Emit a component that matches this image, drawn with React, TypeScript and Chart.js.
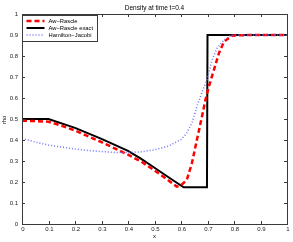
import React, { useEffect, useRef } from "react";
import { Chart, registerables } from "chart.js";

Chart.register(...registerables);

const titleText = "Density at time t=0.4";
const xLabel = "x";
const yLabel = "rho";
const xTicks = [0, 0.1, 0.2, 0.3, 0.4, 0.5, 0.6, 0.7, 0.8, 0.9, 1];
const yTicks = [0, 0.1, 0.2, 0.3, 0.4, 0.5, 0.6, 0.7, 0.8, 0.9, 1];

const seriesNames = ["Aw\u2212Rascle", "Aw\u2212Rascle exact", "Hamilton\u2212Jacobi"];

const arX = [0, 0.05, 0.1, 0.15, 0.2, 0.3, 0.4, 0.45, 0.5, 0.55, 0.584, 0.6, 0.622, 0.641, 0.66, 0.679, 0.692, 0.705, 0.724, 0.743, 0.762, 0.793, 0.85, 1];
const arY = [0.492, 0.49, 0.487, 0.468, 0.445, 0.39, 0.33, 0.297, 0.255, 0.21, 0.178, 0.184, 0.21, 0.289, 0.4, 0.511, 0.59, 0.654, 0.733, 0.813, 0.868, 0.897, 0.9, 0.9];

const exactX = [0, 0.1, 0.2, 0.3, 0.4, 0.45, 0.5, 0.55, 0.61, 0.698, 0.7, 1];
const exactY = [0.5, 0.5, 0.458, 0.405, 0.348, 0.31, 0.268, 0.225, 0.175, 0.175, 0.9, 0.9];

const hjX = [0, 0.05, 0.1, 0.15, 0.2, 0.25, 0.3, 0.35, 0.4, 0.45, 0.5, 0.55, 0.6, 0.62, 0.641, 0.66, 0.68, 0.698, 0.717, 0.736, 0.762, 0.787, 0.82, 1];
const hjY = [0.408, 0.39, 0.376, 0.366, 0.357, 0.35, 0.345, 0.341, 0.34, 0.344, 0.353, 0.37, 0.402, 0.43, 0.48, 0.559, 0.63, 0.686, 0.78, 0.837, 0.876, 0.897, 0.9, 0.9];

const FONT = "'Liberation Sans', Arial, sans-serif";

const toPts = (xs: number[], ys: number[]) => xs.map((x, i) => ({ x, y: ys[i] }));

const styles = [
  { color: "#ff0000", width: 2.5, dash: [5, 3] },
  { color: "#000000", width: 2, dash: [] as number[] },
  { color: "#6f6fff", width: 1.5, dash: [1, 2] },
];

const framePlugin = {
  id: "frame",
  afterDraw(chart: any) {
    const { ctx, chartArea: a, scales } = chart;
    ctx.save();
    ctx.strokeStyle = "#3a3a3a";
    ctx.lineWidth = 1;
    ctx.setLineDash([]);
    ctx.strokeRect(Math.round(a.left) + 0.5, Math.round(a.top) + 0.5, Math.round(a.right - a.left), Math.round(a.bottom - a.top));
    const tl = 3;
    ctx.beginPath();
    xTicks.forEach((v) => {
      const px = Math.round(scales.x.getPixelForValue(v)) + 0.5;
      ctx.moveTo(px, a.bottom);
      ctx.lineTo(px, a.bottom - tl);
      ctx.moveTo(px, a.top);
      ctx.lineTo(px, a.top + tl);
    });
    yTicks.forEach((v) => {
      const py = Math.round(scales.y.getPixelForValue(v)) + 0.5;
      ctx.moveTo(a.left, py);
      ctx.lineTo(a.left + tl, py);
      ctx.moveTo(a.right, py);
      ctx.lineTo(a.right - tl, py);
    });
    ctx.stroke();

    // tick labels
    ctx.fillStyle = "#222";
    ctx.font = `6px ${FONT}`;
    ctx.textBaseline = "middle";
    ctx.textAlign = "center";
    xTicks.forEach((v) => {
      const px = scales.x.getPixelForValue(v);
      ctx.fillText(String(v), px + 1, a.bottom + 5.5);
    });
    ctx.textAlign = "right";
    yTicks.forEach((v) => {
      const py = scales.y.getPixelForValue(v);
      ctx.fillText(String(v), a.left - 4, py);
    });

    // title and axis labels
    ctx.fillStyle = "#000";
    ctx.textAlign = "center";
    ctx.font = `6.5px ${FONT}`;
    ctx.fillText(titleText, (a.left + a.right) / 2, 8);
    ctx.font = `6px ${FONT}`;
    ctx.fillText(xLabel, (a.left + a.right) / 2, a.bottom + 12);
    ctx.save();
    ctx.translate(4.5, (a.top + a.bottom) / 2 + 1);
    ctx.rotate(-Math.PI / 2);
    ctx.fillText(yLabel, 0, 0);
    ctx.restore();

    // legend
    const lx = Math.round(a.left) + 0.5;
    const ly = Math.round(a.top) + 1.5;
    const lw = 75;
    const lh = 26;
    ctx.fillStyle = "#ffffff";
    ctx.fillRect(lx, ly, lw, lh);
    ctx.strokeStyle = "#3a3a3a";
    ctx.lineWidth = 1;
    ctx.strokeRect(lx, ly, lw, lh);
    ctx.font = `5.8px ${FONT}`;
    ctx.textBaseline = "middle";
    ctx.textAlign = "left";
    const rows = [ly + 5.5, ly + 12.5, ly + 19.5];
    seriesNames.forEach((name, i) => {
      const s = styles[i];
      ctx.strokeStyle = s.color;
      ctx.lineWidth = s.width;
      ctx.setLineDash(s.dash);
      ctx.beginPath();
      ctx.moveTo(lx + 4, rows[i]);
      ctx.lineTo(lx + 22, rows[i]);
      ctx.stroke();
      ctx.setLineDash([]);
      ctx.fillStyle = "#000000";
      ctx.fillText(name, lx + 26, rows[i]);
    });
    ctx.restore();
  },
};

export default function App() {
  const ref = useRef<HTMLCanvasElement>(null);
  useEffect(() => {
    if (!ref.current) return;
    const data = [toPts(arX, arY), toPts(exactX, exactY), toPts(hjX, hjY)];
    const chart = new Chart(ref.current, {
      type: "scatter",
      data: {
        datasets: seriesNames.map((name, i) => ({
          label: name,
          data: data[i],
          showLine: true,
          borderColor: styles[i].color,
          backgroundColor: styles[i].color,
          borderWidth: styles[i].width,
          borderDash: styles[i].dash,
          pointRadius: 0,
          tension: 0,
          order: i === 2 ? 0 : i === 0 ? 1 : 2,
        })),
      },
      options: {
        animation: false,
        responsive: false,
        devicePixelRatio: 1,
        layout: { padding: { left: 22, right: 6, top: 14, bottom: 18 } },
        plugins: {
          legend: { display: false },
          tooltip: { enabled: false },
          title: { display: false },
        },
        scales: {
          x: {
            type: "linear",
            min: 0,
            max: 1,
            display: false,
          },
          y: {
            type: "linear",
            min: 0,
            max: 1,
            display: false,
          },
        },
      },
      plugins: [framePlugin],
    } as any);
    return () => chart.destroy();
  }, []);
  return (
    <div style={{ position: "fixed", left: 0, top: 0, width: 293, height: 242, background: "#fff" }}>
      <canvas ref={ref} width={293} height={242} style={{ width: 293, height: 242, display: "block" }} />
    </div>
  );
}
